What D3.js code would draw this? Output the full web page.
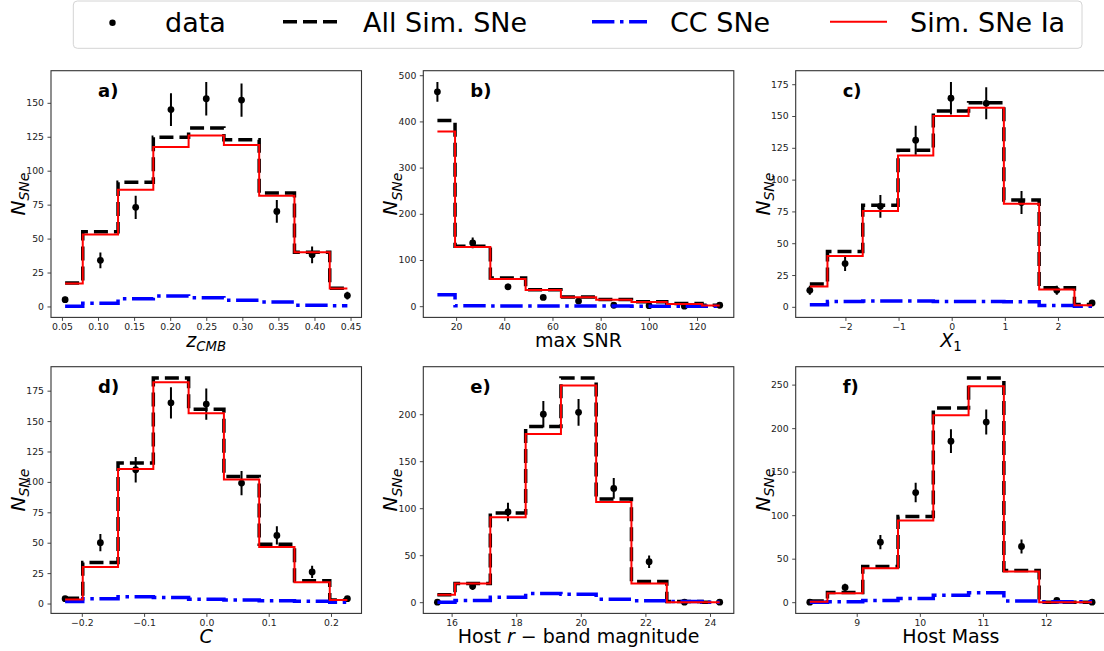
<!DOCTYPE html>
<html><head><meta charset="utf-8">
<script src="https://cdn.jsdelivr.net/npm/d3@7"></script>
<style>body{margin:0;background:#fff} svg{display:block}</style>
</head><body><svg id="chart" width="1104" height="651"></svg>
<script>
const seriesNames = ["data", "All Sim. SNe", "CC SNe", "Sim. SNe Ia"];

// a) z_CMB
const aCenters = [0.0544, 0.1033, 0.1522, 0.2011, 0.2500, 0.2989, 0.3478, 0.3967, 0.4456];
const aData = [5, 34, 73, 145, 153, 152, 70, 38, 8];
const aErr  = [2.2, 5.8, 8.5, 12, 12.4, 12.3, 8.4, 6.2, 2.8];
const aAll  = [17.3, 55, 91.5, 124.6, 131.5, 122.8, 83.5, 40, 13.5];
const aIa   = [17, 53, 86, 117.4, 126, 119, 81.5, 40, 13.3];
const aCC   = [0.2, 2.3, 5.6, 7.7, 6.5, 4.5, 3.2, 0.8, 0.5];
const aXTicks = [0.05, 0.10, 0.15, 0.20, 0.25, 0.30, 0.35, 0.40, 0.45];
const aYTicks = [0, 25, 50, 75, 100, 125, 150];

// b) max SNR
const bCenters = [12.24, 26.88, 41.53, 56.17, 70.82, 85.46, 100.1, 114.75, 129.4];
const bData = [464, 137, 42, 19, 11, 2, 1, 0, 2];
const bErr  = [21.5, 11.7, 6.5, 4.4, 3.3, 1.4, 1, 0, 1.4];
const bAll  = [402, 129.5, 61, 35.5, 20, 14.5, 9.4, 5.8, 2];
const bIa   = [378, 128, 59, 35, 19.5, 14, 9, 5, 1.5];
const bCC   = [25, 0.7, 0.4, 0.3, 0.2, 0.2, 0.1, 0.1, 0.1];
const bXTicks = [20, 40, 60, 80, 100, 120];
const bYTicks = [0, 100, 200, 300, 400, 500];

// c) X_1
const cCenters = [-2.67, -2.006, -1.342, -0.678, -0.014, 0.65, 1.314, 1.978, 2.642];
const cData = [13, 34, 79, 131, 164, 160, 82, 13, 3];
const cErr  = [3.6, 5.8, 8.9, 11.4, 12.8, 12.6, 9.1, 3.6, 1.7];
const cAll  = [18, 43.4, 79.8, 123, 154, 160.5, 84, 15, 1.9];
const cIa   = [16, 40, 75.3, 119, 150, 156.5, 81, 13.7, 1.3];
const cCC   = [1.6, 4.2, 4.6, 4.5, 4.2, 4.1, 3.9, 1.0, 0.5];
const cXTicks = [-2, -1, 0, 1, 2];
const cYTicks = [0, 25, 50, 75, 100, 125, 150, 175];

// d) C
const dCenters = [-0.2268, -0.1702, -0.1135, -0.0569, -0.0002, 0.0564, 0.1131, 0.1697, 0.2263];
const dData = [4, 50, 110, 165, 164, 99, 56, 26, 4];
const dErr  = [2, 7.1, 10.5, 12.8, 12.8, 9.9, 7.5, 5.1, 2];
const dAll  = [4.4, 33.7, 115.6, 185.5, 159.8, 104.5, 48.7, 18.8, 3];
const dIa   = [3.3, 30, 110.6, 182, 156.5, 102, 46.4, 17.4, 2.8];
const dCC   = [1.6, 3.9, 5.5, 5, 3.6, 2.8, 2.2, 1.9, 1.1];
const dXTicks = [-0.2, -0.1, 0.0, 0.1, 0.2];
const dYTicks = [0, 25, 50, 75, 100, 125, 150, 175];

// e) Host r-band magnitude
const eCenters = [15.56, 16.65, 17.745, 18.84, 19.93, 21.02, 22.115, 23.21, 24.3];
const eData = [0, 17, 96, 200, 202, 121, 43, 0, 0];
const eErr  = [0, 4.1, 9.8, 14.1, 14.2, 11, 6.6, 0, 0];
const eAll  = [8, 20, 95, 187, 238.6, 109.7, 22, 0.7, 0];
const eIa   = [8, 19.8, 90.3, 178.8, 230.4, 106.5, 19.8, 0, 0];
const eCC   = [0, 1.8, 5.3, 9.2, 8.5, 3.2, 1.4, 0.7, 0];
const eXTicks = [16, 18, 20, 22, 24];
const eYTicks = [0, 50, 100, 150, 200];

// f) Host Mass
const fCenters = [8.257, 8.816, 9.375, 9.934, 10.493, 11.052, 11.611, 12.17, 12.729];
const fData = [0, 17, 69, 126, 185, 207, 64, 2, 0];
const fErr  = [0, 4.1, 8.3, 11.2, 13.6, 14.4, 8, 1.4, 0];
const fAll  = [1.5, 11, 41, 98.5, 223, 257.7, 36.4, 0, 0];
const fIa   = [0.4, 10.4, 39, 94, 214.7, 248, 35.3, 0, 0];
const fCC   = [0, 0.4, 1.9, 4.2, 8, 10.7, 1.5, 0.4, 0.4];
const fXTicks = [9, 10, 11, 12];
const fYTicks = [0, 50, 100, 150, 200, 250];

const panelLetters = ["a)", "b)", "c)", "d)", "e)", "f)"];
const yLabelParts = [{t: "N", i: 1}, {t: "SNe", i: 1, sub: 1}];

const panels = [
  {centers: aCenters, data: aData, err: aErr, all: aAll, ia: aIa, cc: aCC, xTicks: aXTicks, yTicks: aYTicks, xFmt: ".2f",
   xLabel: [{t: "z", i: 1}, {t: "CMB", i: 1, sub: 1}]},
  {centers: bCenters, data: bData, err: bErr, all: bAll, ia: bIa, cc: bCC, xTicks: bXTicks, yTicks: bYTicks, xFmt: "d",
   xLabel: [{t: "max SNR"}]},
  {centers: cCenters, data: cData, err: cErr, all: cAll, ia: cIa, cc: cCC, xTicks: cXTicks, yTicks: cYTicks, xFmt: "d",
   xLabel: [{t: "X", i: 1}, {t: "1", sub: 1}]},
  {centers: dCenters, data: dData, err: dErr, all: dAll, ia: dIa, cc: dCC, xTicks: dXTicks, yTicks: dYTicks, xFmt: ".1f",
   xLabel: [{t: "C", i: 1}]},
  {centers: eCenters, data: eData, err: eErr, all: eAll, ia: eIa, cc: eCC, xTicks: eXTicks, yTicks: eYTicks, xFmt: "d",
   xLabel: [{t: "Host "}, {t: "r", i: 1}, {t: " \u2212 band magnitude"}]},
  {centers: fCenters, data: fData, err: fErr, all: fAll, ia: fIa, cc: fCC, xTicks: fXTicks, yTicks: fYTicks, xFmt: "d",
   xLabel: [{t: "Host Mass"}]}
];

const svg = d3.select("#chart");
const FONT = "'DejaVu Sans', sans-serif";
const colLefts = [51, 423.3, 795.7];
const rowTops = [70.7, 366.7];
const PW = 310.5, PH = 246.7;

function richText(sel, parts, baseSize) {
  parts.forEach((p, k) => {
    const ts = sel.append("tspan").text(p.t)
      .attr("font-style", p.i ? "italic" : "normal")
      .attr("font-size", p.sub ? baseSize * 0.7 : baseSize);
    if (p.sub) ts.attr("dy", baseSize * 0.22);
    else if (k > 0 && parts[k - 1].sub) ts.attr("dy", -baseSize * 0.22);
  });
}

panels.forEach((p, idx) => {
  const left = colLefts[idx % 3], top = rowTops[Math.floor(idx / 3)];
  const g = svg.append("g").attr("transform", `translate(${left},${top})`);

  const cx = d3.extent(p.centers);
  const xr = cx[1] - cx[0];
  const x = d3.scaleLinear().domain([cx[0] - 0.05 * xr, cx[1] + 0.05 * xr]).range([0, PW]);

  const allVals = [].concat(p.all, p.ia, p.cc, p.data.map((v, i) => v + p.err[i]), p.data.map((v, i) => v - p.err[i]));
  const ye = d3.extent(allVals);
  const yr = ye[1] - ye[0];
  const y = d3.scaleLinear().domain([ye[0] - 0.05 * yr, ye[1] + 0.05 * yr]).range([PH, 0]);

  const clipId = "clip" + idx;
  g.append("clipPath").attr("id", clipId).append("rect").attr("width", PW).attr("height", PH);
  const plot = g.append("g").attr("clip-path", `url(#${clipId})`);

  // data with error bars
  plot.selectAll("line.err").data(p.data).join("line").attr("class", "err")
    .attr("x1", (d, i) => x(p.centers[i])).attr("x2", (d, i) => x(p.centers[i]))
    .attr("y1", (d, i) => y(d - p.err[i])).attr("y2", (d, i) => y(d + p.err[i]))
    .attr("stroke", "#000").attr("stroke-width", 2);
  plot.selectAll("circle.pt").data(p.data).join("circle").attr("class", "pt")
    .attr("cx", (d, i) => x(p.centers[i])).attr("cy", d => y(d)).attr("r", 3.4).attr("fill", "#000");

  const line = d3.line().x(d => x(d[0])).y(d => y(d[1])).curve(d3.curveStep);
  const series = [
    {vals: p.all, stroke: "#000", w: 3.5, dash: "14,6"},
    {vals: p.cc, stroke: "#0000ff", w: 3.5, dash: "22.4,5.6,3.5,5.6"},
    {vals: p.ia, stroke: "#ff0000", w: 2, dash: null}
  ];
  series.forEach(s => {
    plot.append("path").datum(p.centers.map((c, i) => [c, s.vals[i]]))
      .attr("d", line).attr("fill", "none").attr("stroke", s.stroke)
      .attr("stroke-width", s.w).attr("stroke-dasharray", s.dash);
  });

  // frame
  g.append("rect").attr("width", PW).attr("height", PH).attr("fill", "none")
    .attr("stroke", "#333").attr("stroke-width", 1.1);

  // axes
  const xAxis = d3.axisBottom(x).tickValues(p.xTicks).tickFormat(d3.format(p.xFmt)).tickSize(3.5).tickPadding(3);
  const yAxis = d3.axisLeft(y).tickValues(p.yTicks).tickFormat(d3.format("d")).tickSize(3.5).tickPadding(3.5);
  const gx = g.append("g").attr("transform", `translate(0,${PH})`).call(xAxis);
  const gy = g.append("g").call(yAxis);
  [gx, gy].forEach(a => {
    a.select(".domain").remove();
    a.selectAll(".tick line").attr("stroke", "#333").attr("stroke-width", 0.9);
    a.selectAll(".tick text").attr("font-family", FONT).attr("font-size", 9.3).attr("fill", "#222");
  });

  // panel letter
  g.append("text").attr("x", 47).attr("y", 26).text(panelLetters[idx])
    .attr("font-family", FONT).attr("font-weight", "bold").attr("font-size", 18).attr("fill", "#000");

  // x label
  const xl = g.append("text").attr("x", PW / 2).attr("y", PH + 29.6).attr("text-anchor", "middle")
    .attr("font-family", FONT).attr("fill", "#000");
  richText(xl, p.xLabel, 19);

  // y label
  const yl = g.append("text").attr("transform", `translate(-26,${PH / 2}) rotate(-90)`)
    .attr("text-anchor", "middle").attr("font-family", FONT).attr("fill", "#000");
  richText(yl, yLabelParts, 20);
});

// legend
const leg = svg.append("g");
leg.append("rect").attr("x", 73.3).attr("y", 1).attr("width", 1008.7).attr("height", 47.3).attr("rx", 4)
  .attr("fill", "#fff").attr("stroke", "#d4d4d4").attr("stroke-width", 1);
const legY = 21.7;
const legItems = [
  {name: seriesNames[0], kind: "dot", hx: [85, 140], tx: 165},
  {name: seriesNames[1], kind: "line", stroke: "#000", w: 3.5, dash: "14,6", hx: [283, 337], tx: 363},
  {name: seriesNames[2], kind: "line", stroke: "#0000ff", w: 3.5, dash: "22.4,5.6,3.5,5.6", hx: [592, 647], tx: 670},
  {name: seriesNames[3], kind: "line", stroke: "#ff0000", w: 2, dash: null, hx: [830, 887], tx: 910}
];
legItems.forEach(it => {
  if (it.kind === "dot") {
    leg.append("circle").attr("cx", (it.hx[0] + it.hx[1]) / 2).attr("cy", legY + 1).attr("r", 3.2).attr("fill", "#000");
  } else {
    leg.append("line").attr("x1", it.hx[0]).attr("x2", it.hx[1]).attr("y1", legY).attr("y2", legY)
      .attr("stroke", it.stroke).attr("stroke-width", it.w).attr("stroke-dasharray", it.dash);
  }
  leg.append("text").attr("x", it.tx).attr("y", 31.5).text(it.name)
    .attr("font-family", FONT).attr("font-size", 27).attr("fill", "#000");
});
</script></body></html>
